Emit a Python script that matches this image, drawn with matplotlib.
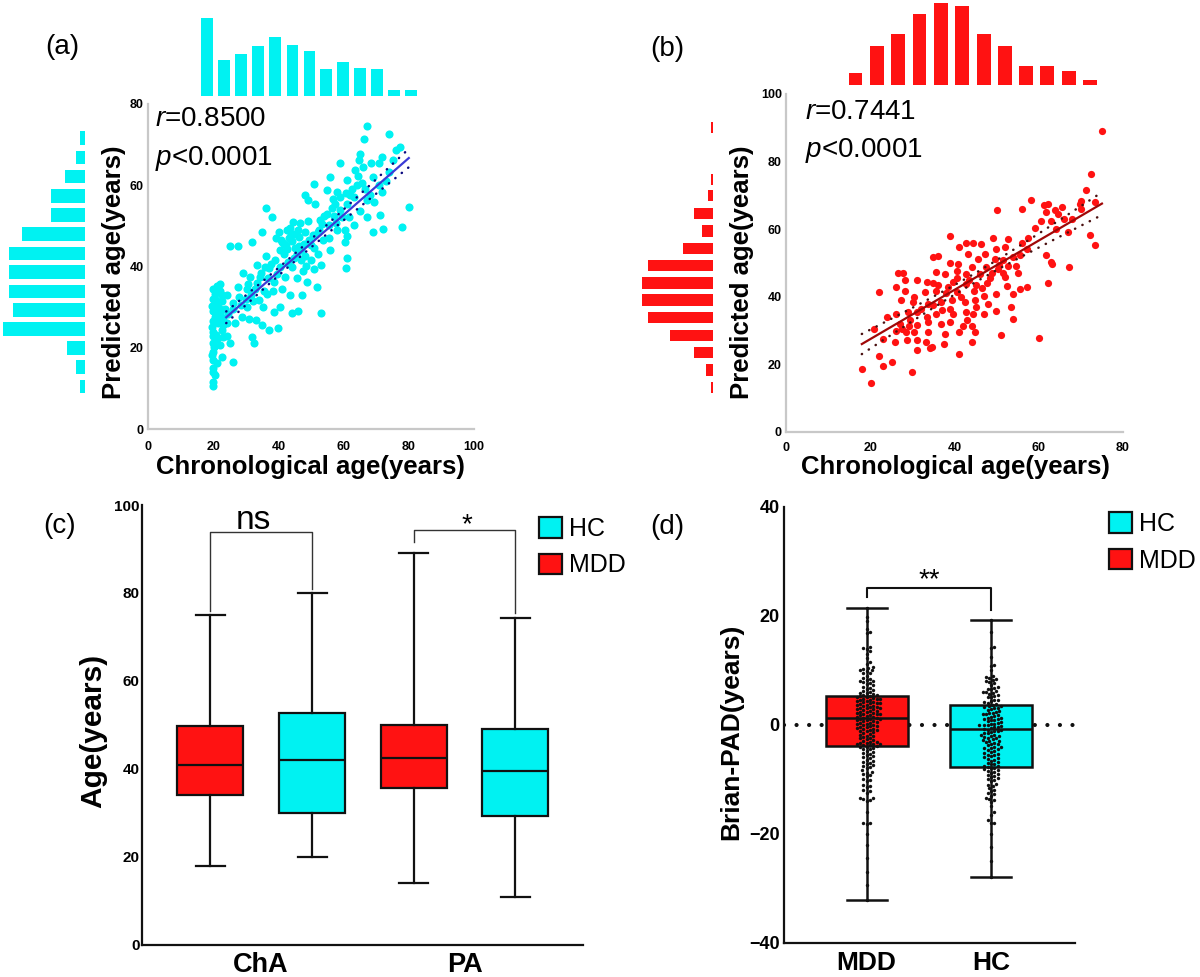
#!/usr/bin/env python3
# Brain age figure: predicted vs chronological age with marginal histograms
# for HC (a) and MDD (b), group box plots of age (c) and brain-PAD (d).

import numpy as np
import matplotlib as mpl
mpl.use("Agg")
import matplotlib.pyplot as plt
from matplotlib.patches import Patch


# ---------------------------------------------------------------- data ----
# (a) HC: chronological age vs predicted age
HC_CHRON = [
    67.2, 73.8, 66.2, 77.2, 64.9, 64.6, 71.8, 70.8, 59.0, 63.6, 73.8, 55.9,
    61.0, 65.6, 51.0, 54.9, 58.0, 60.8, 68.2, 70.8, 71.8, 48.2, 49.2, 51.3,
    57.4, 61.0, 63.1, 67.2, 69.2, 80.0, 56.4, 36.1, 38.0, 59.5, 61.6, 67.2,
    71.3, 52.8, 55.4, 44.6, 46.7, 49.2, 42.6, 48.2, 57.9, 60.5, 61.0, 69.0,
    72.0, 77.9, 35.1, 32.0, 41.0, 43.2, 46.3, 49.9, 53.8, 60.5, 25.1, 27.7,
    40.5, 42.6, 45.6, 48.2, 52.3, 55.9, 61.0, 33.3, 35.9, 40.5, 44.2, 47.4,
    51.0, 53.0, 60.8, 29.2, 31.3, 34.4, 36.9, 42.0, 45.6, 48.9, 51.8, 27.5,
    30.3, 32.8, 35.6, 38.3, 41.0, 43.6, 47.2, 20.0, 22.1, 24.1, 20.0, 21.0,
    26.2, 30.3, 32.3, 35.4, 38.5, 40.5, 44.1, 45.9, 53.0, 20.0, 21.0, 22.1,
    23.1, 20.0, 21.5, 24.1, 26.7, 28.7, 31.1, 33.0, 35.1, 37.2, 40.0, 20.0,
    21.0, 22.6, 24.1, 25.1, 20.0, 22.1, 32.0, 32.5, 20.0, 20.0, 22.6, 26.2,
    20.0, 20.0, 20.0, 20.0, 19.6, 20.6, 21.2, 22.6, 23.6, 20.6, 22.2, 19.6,
    21.2, 23.1, 20.2, 19.6, 21.2, 20.6, 23.1, 24.6, 22.1, 42.2, 44.2, 46.2,
    39.2, 40.2, 43.6, 45.1, 41.6, 37.1, 39.6, 48.6, 50.1, 55.6, 57.6, 63.1,
    65.1, 66.6, 69.1, 73.1, 75.1, 76.1, 28.0, 30.8, 34.2, 36.5, 38.8, 42.8,
    44.8, 46.8, 50.5, 52.5, 54.0, 56.8, 58.8, 62.5, 64.5, 66.0, 68.5,
    26.0, 28.5, 30.0, 31.5, 33.5, 34.8, 36.2, 37.8, 39.0, 40.8, 41.8, 43.0,
    44.0, 45.0, 46.0, 47.0, 48.0, 49.5, 50.8, 52.0, 53.5, 55.0, 57.0, 59.0,
    62.0, 64.0, 20.8, 21.8, 22.8, 19.8,
]
HC_PRED = [
    74.6, 72.6, 71.5, 69.5, 67.7, 66.2, 67.0, 65.4, 65.4, 63.7, 63.3, 62.1,
    61.3, 60.5, 60.3, 58.8, 58.4, 58.0, 57.6, 60.0, 58.4, 57.6, 56.4, 55.5,
    55.5, 55.5, 57.2, 56.4, 55.9, 54.7, 54.3, 54.3, 52.3, 52.3, 52.3, 52.3,
    52.7, 51.5, 50.2, 51.0, 50.7, 51.2, 49.0, 48.6, 49.0, 49.0, 47.4, 48.6,
    49.2, 49.8, 48.6, 46.1, 46.0, 47.0, 47.2, 45.4, 46.5, 46.0, 45.1, 45.1,
    44.0, 44.2, 43.0, 42.5, 43.0, 44.0, 42.0, 40.4, 39.9, 39.9, 39.9, 38.9,
    39.3, 40.4, 39.6, 38.3, 37.5, 37.5, 37.1, 37.5, 37.1, 36.3, 35.0, 35.0,
    34.5, 34.5, 34.0, 34.0, 34.5, 33.0, 33.0, 34.5, 34.0, 33.0, 32.0, 31.1,
    31.1, 30.1, 31.5, 30.1, 28.9, 30.1, 28.5, 29.1, 28.5, 29.0, 28.1, 28.5,
    27.3, 26.6, 26.0, 26.0, 26.0, 27.6, 27.2, 26.8, 25.6, 24.4, 24.9, 24.0,
    23.1, 24.4, 22.9, 21.2, 21.2, 20.8, 22.6, 21.2, 19.0, 17.0, 17.8, 16.6,
    15.0, 14.0, 11.6, 10.7, 30.2, 33.2, 35.2, 31.6, 29.6, 27.6, 26.6, 25.2,
    22.2, 22.6, 20.2, 18.2, 16.2, 13.2, 25.6, 28.2, 35.6, 45.2, 46.2, 45.0,
    47.0, 48.6, 49.6, 48.1, 43.0, 39.6, 38.1, 40.1, 41.6, 47.1, 50.6, 50.1,
    53.6, 59.1, 62.1, 61.1, 66.1, 68.6, 32.5, 35.8, 31.8, 33.2, 36.2, 40.8,
    42.0, 44.0, 47.8, 49.0, 52.5, 56.6, 57.0, 59.0, 62.4, 64.5, 65.5,
    29.5, 30.5, 32.0, 33.0, 36.0, 38.5, 42.5, 40.5, 41.5, 46.5, 45.5, 41.0,
    48.0, 44.5, 49.0, 41.5, 45.5, 46.5, 44.5, 48.5, 50.5, 53.0, 52.5, 54.0,
    57.5, 60.0, 31.8, 29.8, 33.0, 22.8,
]

# (b) MDD: chronological age vs predicted age
MDD_CHRON = [
    75.1, 72.3, 71.1, 58.2, 61.2, 62.2, 63.8, 69.7, 70.1, 73.3, 50.1, 56.0,
    61.7, 64.6, 66.1, 63.0, 59.0, 64.2, 67.0, 72.1, 73.3, 38.9, 49.2, 52.7,
    56.1, 41.1, 42.8, 44.4, 46.4, 49.9, 51.9, 57.2, 34.9, 36.1, 43.3, 45.6,
    47.2, 49.5, 51.5, 53.9, 61.8, 63.0, 38.9, 40.9, 44.1, 47.4, 50.4, 52.7,
    63.2, 67.2, 26.5, 27.7, 35.6, 37.7, 40.6, 42.8, 46.0, 49.0, 51.5, 55.1,
    28.2, 31.0, 34.8, 39.7, 42.8, 45.2, 47.6, 52.5, 55.5, 57.1, 62.2, 26.0,
    28.2, 22.0, 32.9, 35.7, 38.1, 40.6, 44.6, 46.9, 49.9, 53.9, 27.4, 30.2,
    33.8, 36.8, 39.4, 42.5, 44.8, 48.0, 53.5, 26.0, 29.0, 31.0, 33.4, 35.7,
    39.7, 42.8, 44.4, 49.9, 53.9, 23.9, 27.0, 29.2, 31.0, 33.8, 36.9, 38.9,
    42.1, 44.1, 26.1, 28.4, 30.4, 33.8, 37.7, 41.1, 44.8, 51.1, 21.0, 23.1,
    25.9, 28.8, 31.0, 33.2, 34.6, 44.1, 60.1, 31.0, 34.1, 22.1, 25.1, 23.1,
    41.1, 18.1, 30.0, 20.1, 29.5, 32.0, 35.0, 37.0, 38.5, 40.5, 41.5, 43.5,
    45.0, 46.5, 48.5, 50.5, 52.0, 54.5, 55.5, 57.5, 60.5, 65.5, 68.0, 70.0,
    33.5, 36.0, 27.5, 30.5, 39.0, 47.0, 37.5, 43.0,
]
MDD_PRED = [
    89.1, 76.2, 71.6, 68.6, 67.2, 67.5, 65.6, 67.4, 68.3, 68.1, 65.6, 66.1,
    65.0, 64.6, 63.1, 62.5, 60.5, 60.2, 59.2, 58.2, 55.3, 58.0, 57.3, 57.0,
    56.0, 54.6, 56.0, 56.0, 55.5, 54.0, 54.8, 54.1, 51.8, 52.0, 52.6, 51.3,
    52.6, 51.3, 50.8, 51.8, 52.5, 50.3, 50.0, 49.8, 48.8, 48.8, 48.3, 49.0,
    49.7, 48.9, 46.9, 46.9, 47.4, 46.7, 47.7, 46.7, 46.7, 47.1, 47.1, 47.1,
    44.9, 44.9, 44.1, 44.4, 43.9, 43.4, 44.1, 43.2, 42.4, 42.9, 44.1, 43.0,
    41.8, 41.3, 41.3, 41.8, 41.0, 41.3, 41.8, 40.3, 40.8, 40.8, 39.0, 38.5,
    38.0, 38.5, 39.0, 38.5, 39.0, 38.0, 37.0, 35.0, 35.5, 35.5, 33.9, 34.9,
    34.9, 35.5, 34.9, 35.9, 33.4, 34.0, 32.0, 31.5, 31.8, 32.5, 32.0, 32.5,
    31.5, 31.5, 30.0, 29.5, 29.5, 29.5, 29.0, 29.5, 29.5, 28.6, 30.4, 27.4,
    26.6, 27.1, 27.1, 26.6, 25.1, 26.6, 27.8, 24.3, 24.8, 22.5, 20.6, 19.6,
    23.0, 18.5, 17.7, 14.5, 33.0, 36.5, 37.5, 36.0, 43.0, 45.5, 40.0, 45.0,
    37.0, 42.5, 45.5, 49.5, 46.0, 49.0, 52.5, 57.5, 62.5, 66.5, 63.0, 66.0,
    44.5, 43.5, 30.5, 40.0, 36.5, 35.0, 26.0, 33.0,
]

# regression lines: (slope, intercept) and x extent
HC_FIT = (0.70, 10.7)
HC_FIT_RANGE = (24, 80)
MDD_FIT = (0.729, 12.9)
MDD_FIT_RANGE = (18, 75)

# marginal histograms (bin centre, count)
HC_TOP_CENTERS = [18.2, 23.4, 28.6, 33.8, 39.0, 44.3, 49.5, 54.7, 59.9,
                  65.1, 70.3, 75.5, 80.7]
HC_TOP_COUNTS = [50, 23, 27, 32, 38, 33, 29, 17, 22, 18, 17, 4, 4]
HC_SIDE_CENTERS = [10.5, 15.3, 19.9, 24.6, 29.3, 33.9, 38.6, 43.2, 48.0,
                   52.7, 57.4, 62.1, 66.9, 71.6]
HC_SIDE_COUNTS = [3, 6, 12, 53, 47, 49, 49, 49, 41, 22, 22, 13, 6, 3]

MDD_TOP_CENTERS = [16.5, 21.6, 26.6, 31.7, 36.7, 41.8, 46.9, 51.9, 57.0,
                   62.0, 67.1, 72.2]
MDD_TOP_COUNTS = [8, 25, 33, 46, 53, 51, 33, 25, 12, 12, 9, 3]
MDD_SIDE_CENTERS = [13.1, 18.3, 23.5, 28.6, 33.9, 39.0, 44.1, 49.3, 54.3,
                    59.5, 64.7, 69.9, 74.7, 90.1]
MDD_SIDE_COUNTS = [1, 4, 12, 27, 41, 45, 45, 41, 19, 7, 12, 3, 1, 1]

# (c) age box plots: whisker low, q1, median, q3, whisker high
AGE_GROUPS = ["MDD", "HC", "MDD", "HC"]
AGE_STATS = [
    (18.0, 34.2, 40.9, 49.8, 75.0),   # ChA MDD
    (20.0, 30.0, 42.0, 52.8, 80.0),   # ChA HC
    (14.2, 35.6, 42.6, 50.1, 89.0),   # PA MDD
    (10.8, 29.3, 39.5, 49.1, 74.4),   # PA HC
]
AGE_CATEGORIES = ["ChA", "PA"]

# (d) brain-PAD box plots and individual values
PAD_CATEGORIES = ["MDD", "HC"]
PAD_STATS = [
    (-32.2, -3.85, 1.3, 5.2, 21.4),
    (-28.0, -7.7, -0.85, 3.7, 19.2),
]
PAD_MDD = [
    21.4, 19.8, 19.0, 17.5, 17.0, 16.8, 14.2, 14.0, 13.8, 13.5, 13.0, 12.2,
    11.5, 11.2, 10.6, 10.4, 10.2, 10.0, 10.0, 9.8, 9.5, 9.0, 8.6, 8.2, 8.0,
    8.0, 7.6, 7.4, 7.0, 6.6, 6.4, 6.0, 5.8, 5.6, 5.4, 5.2, 5.0, 4.8, 4.8,
    4.6, 4.4, 4.2, 4.0, 4.0, 3.8, 3.6, 3.4, 3.2, 3.0, 3.0, 2.8, 2.6, 2.4,
    2.2, 2.0, 2.0, 1.8, 1.6, 1.4, 1.2, 1.0, 1.0, 0.8, 0.6, 0.4, 0.2, 0.0,
    -0.2, -0.4, -0.6, -0.8, -1.0, -1.2, -1.5, -1.8, -2.0, -2.2, -2.5, -2.8,
    -3.0, -3.2, -3.4, -3.5, -3.6, -3.8, -4.0, -4.2, -4.5, -5.0, -5.2, -5.5,
    -6.0, -6.2, -6.6, -7.0, -7.2, -7.5, -8.0, -8.4, -8.8, -9.2, -9.5, -10.0,
    -10.4, -11.0, -11.5, -12.0, -12.5, -13.5, -13.6, -13.8, -14.0, -16.0,
    -18.0, -18.0, -18.2, -20.0, -22.0, -24.5, -27.0, -29.5, -32.2,
    9.4, 8.4, 7.8, 7.2, 6.8, 6.2, 5.9, 5.5, 5.3, 5.1, 4.9, 4.7, 4.5, 4.3,
    4.1, 3.9, 3.7, 3.5, 3.3, 3.1, 2.9, 2.7, 2.5, 2.3, 2.1, 1.9, 1.7, 1.5,
    1.3, 1.1, 0.9, 0.7, 0.5, 0.3, 0.1, -0.1, -0.3, -0.5, -0.7, -0.9, -1.1,
    -1.4, -1.7, -2.1, -2.4, -2.7, -3.1, -3.3, -3.5, -3.7, -3.9, -4.1, -4.4,
    -4.8, -5.4, -5.8, -6.4, -6.8, -7.4, -7.8, -8.6, -9.0, -10.2, -11.2,
    -12.2, -13.4,
]
PAD_HC = [
    19.2, 17.0, 14.2, 14.0, 12.5, 11.0, 10.8, 10.0, 9.0, 8.8, 8.6, 8.2, 8.0,
    7.6, 7.2, 6.8, 6.5, 6.2, 6.0, 5.8, 5.5, 5.2, 5.0, 4.6, 4.3, 4.0, 3.7,
    3.5, 3.2, 3.0, 2.8, 2.5, 2.2, 2.0, 1.8, 1.5, 1.2, 1.0, 0.8, 0.5, 0.2,
    0.0, 0.0, -0.3, -0.5, -0.8, -1.0, -1.2, -1.5, -1.8, -2.0, -2.2, -2.5,
    -2.8, -3.0, -3.3, -3.6, -4.0, -4.0, -4.3, -4.6, -5.0, -5.3, -5.6, -6.0,
    -6.3, -6.6, -7.0, -7.3, -7.6, -7.8, -8.0, -8.2, -8.5, -8.8, -9.2, -9.6,
    -10.0, -10.4, -10.8, -11.2, -11.6, -12.0, -12.5, -13.0, -13.4, -13.8,
    -14.2, -15.0, -16.0, -16.5, -17.5, -18.0, -18.0, -20.0, -22.5, -25.0,
    -28.0,
    8.4, 7.8, 7.0, 6.6, 6.0, 5.6, 5.0, 4.5, 4.1, 3.8, 3.4, 3.1, 2.7, 2.4,
    2.1, 1.9, 1.6, 1.3, 1.1, 0.9, 0.6, 0.3, 0.1, -0.1, -0.4, -0.6, -0.9,
    -1.1, -1.4, -1.6, -1.9, -2.1, -2.4, -2.7, -2.9, -3.2, -3.5, -3.8, -4.2,
    -4.5, -4.8, -5.2, -5.5, -5.8, -6.2, -6.5, -6.9, -7.2, -7.5, -7.9, -8.3,
    -8.7, -9.0, -9.4, -9.8, -10.2, -11.0, -12.2, -12.8, -13.6,
]

# significance brackets: (x left, x right, bar y, left foot, right foot, text)
AGE_BRACKETS = [(1, 2, 93.9, 75.8, 80.8, "ns"), (3, 4, 94.3, 91.7, 75.4, "*")]
PAD_BRACKET = (1, 2, 25.0, 23.4, 21.0, "**")


# --------------------------------------------------------------- style ----
W, H = 1200, 977
CYAN = "#00F2F2"
RED = "#FF1212"

plt.rcParams["font.family"] = ["Liberation Sans", "DejaVu Sans"]
plt.rcParams["mathtext.fontset"] = "custom"
plt.rcParams["mathtext.rm"] = "Liberation Sans"
plt.rcParams["mathtext.it"] = "Liberation Sans:italic"


def px_axes(fig, left, top, right, bottom):
    """Add axes whose box is given in figure pixels (origin top left)."""
    return fig.add_axes([left / W, 1 - bottom / H,
                         (right - left) / W, (bottom - top) / H])


def fig_text(fig, x, y, s, **kw):
    fig.text(x / W, 1 - y / H, s, ha="center", va="center", **kw)


def style_axis(ax, color, lw, size, pad_x, pad_y):
    for side in ("top", "right"):
        ax.spines[side].set_visible(False)
    for side in ("left", "bottom"):
        ax.spines[side].set_color(color)
        ax.spines[side].set_linewidth(lw)
    ax.tick_params(length=0, labelsize=size)
    ax.tick_params(axis="x", pad=pad_x)
    ax.tick_params(axis="y", pad=pad_y)
    for lab in ax.get_xticklabels() + ax.get_yticklabels():
        lab.set_fontweight("bold")


def plot_scatter(ax, xs, ys, color, size, fit, fit_range, line_color,
                 ci_color):
    xs = np.asarray(xs)
    ys = np.asarray(ys)
    ax.scatter(xs, ys, s=size, color=color, linewidths=0, zorder=2)
    slope, icpt = fit
    xx = np.linspace(fit_range[0], fit_range[1], 120)
    yy = slope * xx + icpt
    # 95% confidence band of the fitted line
    resid = ys - (slope * xs + icpt)
    n = len(xs)
    s = np.sqrt(np.sum(resid ** 2) / (n - 2))
    sxx = np.sum((xs - xs.mean()) ** 2)
    band = 1.97 * s * np.sqrt(1 / n + (xx - xs.mean()) ** 2 / sxx)
    ax.plot(xx, yy, color=line_color, lw=1.6, zorder=3)
    for sign in (1, -1):
        ax.plot(xx, yy + sign * band, color=ci_color, lw=1.8,
                ls=(0, (0.1, 3.2)), dash_capstyle="round", zorder=3)


def plot_top_hist(ax, centers, counts, width, xlim, color):
    ax.bar(centers, counts, width=width, color=color, linewidth=0)
    ax.set_xlim(*xlim)
    ax.set_ylim(0, max(counts))
    ax.axis("off")


def plot_side_hist(ax, centers, counts, height, ylim, extent, color):
    ax.barh(centers, counts, height=height, color=color, linewidth=0)
    ax.set_ylim(*ylim)
    ax.set_xlim(max(counts) * extent, 0)
    ax.axis("off")


def box_stats(stats):
    return [{"whislo": lo, "q1": q1, "med": med, "q3": q3, "whishi": hi,
             "fliers": []} for lo, q1, med, q3, hi in stats]


def draw_boxes(ax, stats, positions, colors, width, capwidth, lw):
    art = ax.bxp(box_stats(stats), positions=positions, widths=width,
                 capwidths=capwidth, patch_artist=True, showfliers=False,
                 manage_ticks=False,
                 boxprops=dict(linewidth=lw, edgecolor="#111111"),
                 medianprops=dict(linewidth=lw, color="#111111"),
                 whiskerprops=dict(linewidth=lw, color="#111111"),
                 capprops=dict(linewidth=lw, color="#111111"),
                 zorder=2)
    for patch, c in zip(art["boxes"], colors):
        patch.set_facecolor(c)


def draw_bracket(ax, bracket, color, lw, size, text_dx=0.0, text_dy=1.5):
    x1, x2, y, f1, f2, label = bracket
    ax.plot([x1, x1, x2, x2], [f1, y, y, f2], color=color, lw=lw, zorder=3)
    ax.text((x1 + x2) / 2 + text_dx, y + text_dy, label, ha="center",
            va="bottom", fontsize=size)


def swarm_offsets(values, y_scale, x_scale, dot):
    """Beeswarm layout: x offsets (data units) so dots do not overlap."""
    values = np.asarray(values)
    cands = [0.0]
    for k in range(1, 60):
        cands += [k * dot * 0.5, -k * dot * 0.5]
    placed = []
    offs = np.zeros(len(values))
    for i in np.argsort(values):
        y = values[i] * y_scale
        near = [(px, py) for px, py in placed if abs(py - y) < dot]
        for c in cands:
            if all((c - px) ** 2 + (y - py) ** 2 >= dot ** 2
                   for px, py in near):
                break
        placed.append((c, y))
        offs[i] = c / x_scale
    return offs


def legend(ax, fig, x, y):
    handles = [Patch(facecolor=CYAN, edgecolor="#111111", lw=1.6, label="HC"),
               Patch(facecolor=RED, edgecolor="#111111", lw=1.6, label="MDD")]
    ax.legend(handles=handles, loc="upper left",
              bbox_to_anchor=(x / W, 1 - y / H), bbox_transform=fig.transFigure,
              frameon=False, fontsize=18, handlelength=0.9, handleheight=0.9,
              handletextpad=0.3, labelspacing=0.5, borderpad=0,
              borderaxespad=0)


def main():
    fig = plt.figure(figsize=(W / 100, H / 100), dpi=100)

    # ------------------------------------------------------ (a) HC ----
    ax = px_axes(fig, 148, 104, 474, 429)
    plot_scatter(ax, HC_CHRON, HC_PRED, CYAN, 34, HC_FIT, HC_FIT_RANGE,
                 "#3B3BD6", "#0A0A80")
    ax.set_xlim(0, 100)
    ax.set_ylim(0, 80)
    ax.set_xticks([0, 20, 40, 60, 80, 100])
    ax.set_yticks([0, 20, 40, 60, 80])
    style_axis(ax, "#C8C8C8", 1.6, 9, 9, 3)
    ax.text(2.1, 74.6, r"$r$=0.8500", fontsize=20, va="baseline")
    ax.text(2.1, 65.0, r"$p$<0.0001", fontsize=20, va="baseline")

    ax = px_axes(fig, 148, 18, 474, 96)
    plot_top_hist(ax, HC_TOP_CENTERS, HC_TOP_COUNTS, 3.6, (0, 100), CYAN)
    ax = px_axes(fig, 0, 104, 85, 429)
    plot_side_hist(ax, HC_SIDE_CENTERS, HC_SIDE_COUNTS, 3.3, (0, 80),
                   85 / 81.7, CYAN)

    fig_text(fig, 114, 272, "Predicted age(years)", rotation=90,
             fontsize=18.5, fontweight="bold")
    fig_text(fig, 310, 467, "Chronological age(years)", fontsize=18.5,
             fontweight="bold")
    fig_text(fig, 62, 47, "(a)", fontsize=20)

    # ----------------------------------------------------- (b) MDD ----
    ax = px_axes(fig, 786, 94, 1123, 432)
    plot_scatter(ax, MDD_CHRON, MDD_PRED, RED, 27, MDD_FIT, MDD_FIT_RANGE,
                 "#A00808", "#4A1010")
    ax.set_xlim(0, 80)
    ax.set_ylim(0, 100)
    ax.set_xticks([0, 20, 40, 60, 80])
    ax.set_yticks([0, 20, 40, 60, 80, 100])
    style_axis(ax, "#C8C8C8", 1.6, 9, 7, 3)
    ax.text(4.5, 92.5, r"$r$=0.7441", fontsize=20, va="baseline")
    ax.text(4.5, 81.4, r"$p$<0.0001", fontsize=20, va="baseline")

    ax = px_axes(fig, 786, 3, 1123, 85)
    plot_top_hist(ax, MDD_TOP_CENTERS, MDD_TOP_COUNTS, 3.3, (0, 80), RED)
    ax = px_axes(fig, 640, 94, 712.7, 432)
    plot_side_hist(ax, MDD_SIDE_CENTERS, MDD_SIDE_COUNTS, 3.4, (0, 100),
                   72.7 / 70.7, RED)

    fig_text(fig, 742, 272, "Predicted age(years)", rotation=90,
             fontsize=18.5, fontweight="bold")
    fig_text(fig, 955, 467, "Chronological age(years)", fontsize=18.5,
             fontweight="bold")
    fig_text(fig, 667, 49, "(b)", fontsize=20)

    # ------------------------------------------------------ (c) age ----
    ax = px_axes(fig, 142.3, 505, 583, 945)
    colors = [RED if g == "MDD" else CYAN for g in AGE_GROUPS]
    draw_boxes(ax, AGE_STATS, [1, 2, 3, 4], colors, 0.65, 0.285, 1.6)
    # (text size, x shift, y shift) of each bracket label
    label_style = [(24, -0.08, -0.9), (20, 0.02, -1.8)]
    for br, (size, dx, dy) in zip(AGE_BRACKETS, label_style):
        draw_bracket(ax, br, "#333333", 1.0, size, text_dx=dx, text_dy=dy)
    ax.set_xlim(0.331, 4.665)
    ax.set_ylim(0, 100)
    ax.set_yticks([0, 20, 40, 60, 80, 100])
    ax.set_xticks([1.5, 3.5])
    ax.set_xticklabels(AGE_CATEGORIES)
    style_axis(ax, "#111111", 1.6, 11, 5, 2)
    for lab in ax.get_xticklabels():
        lab.set_fontsize(19.5)
    legend(ax, fig, 539, 517)
    fig_text(fig, 93, 731, "Age(years)", rotation=90, fontsize=21.5,
             fontweight="bold")
    fig_text(fig, 60, 526, "(c)", fontsize=20)

    # ------------------------------------------------- (d) brain-PAD ----
    ax = px_axes(fig, 784, 506.7, 1075, 942.7)
    ax.axhline(0, color="#111111", lw=3.0, ls=(0, (0.01, 3.0)),
               dash_capstyle="round", zorder=1)
    draw_boxes(ax, PAD_STATS, [1, 2], [RED, CYAN], 0.66, 0.32, 1.8)
    for pos, vals in zip([1, 2], [PAD_MDD, PAD_HC]):
        offs = swarm_offsets(vals, 436 / 80, 124.3, 3.3)
        ax.scatter(pos + offs, vals, s=6, color="#111111", linewidths=0,
                   zorder=4)
    draw_bracket(ax, PAD_BRACKET, "#111111", 1.5, 20, text_dy=-0.9)
    ax.set_xlim(0.335, 2.676)
    ax.set_ylim(-40, 40)
    ax.set_yticks([-40, -20, 0, 20, 40])
    ax.set_xticks([1, 2])
    ax.set_xticklabels(PAD_CATEGORIES)
    style_axis(ax, "#111111", 1.6, 13, 6, 3)
    for lab in ax.get_xticklabels():
        lab.set_fontsize(19)
    legend(ax, fig, 1109, 512)
    fig_text(fig, 731, 732, "Brian-PAD(years)", rotation=90, fontsize=19,
             fontweight="bold")
    fig_text(fig, 667, 527, "(d)", fontsize=20)

    fig.savefig("out.png", dpi=100)


if __name__ == "__main__":
    main()
